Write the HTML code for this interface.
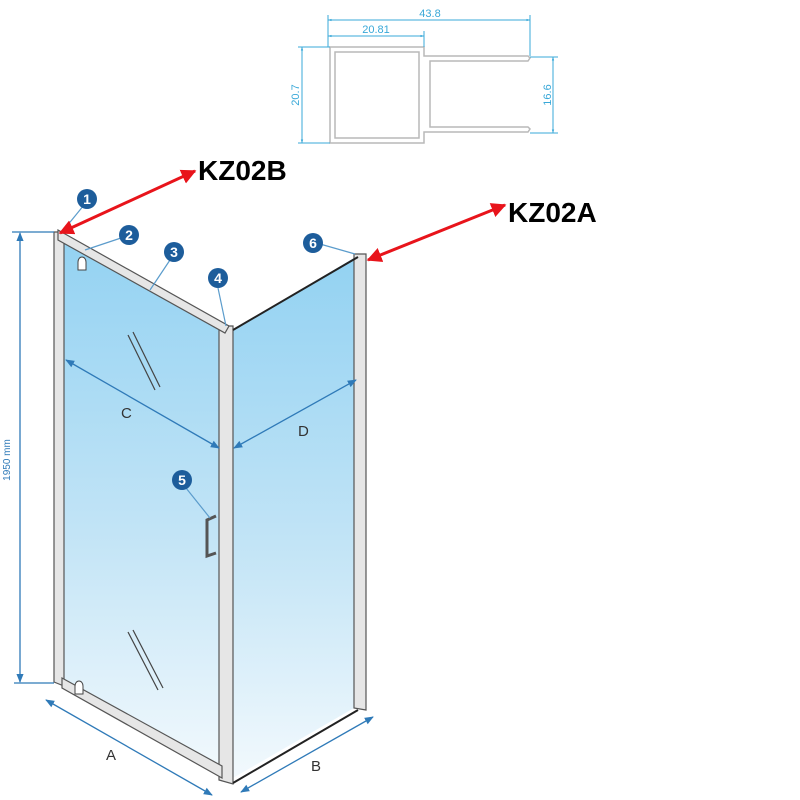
<!DOCTYPE html>
<html><head><meta charset="utf-8"><style>html,body{margin:0;padding:0;background:#fff}svg{display:block}</style></head>
<body>
<svg width="800" height="800" viewBox="0 0 800 800" xmlns="http://www.w3.org/2000/svg" font-family="Liberation Sans, sans-serif">
<defs>
<linearGradient id="g" x1="0" y1="0" x2="0" y2="1">
<stop offset="0" stop-color="#93d2f2"/><stop offset="0.55" stop-color="#c2e4f6"/><stop offset="1" stop-color="#f2f9fd"/>
</linearGradient>
<marker id="ba" viewBox="0 0 10 10" refX="9" refY="5" markerWidth="7" markerHeight="7" orient="auto-start-reverse"><path d="M0,1 L10,5 L0,9 z" fill="#2f7ab8"/></marker>
<marker id="ra" viewBox="0 0 10 10" refX="9" refY="5" markerWidth="5" markerHeight="5" orient="auto-start-reverse"><path d="M0,0 L10,5 L0,10 z" fill="#e8141b"/></marker>
<marker id="ca" viewBox="0 0 10 10" refX="9" refY="5" markerWidth="4" markerHeight="4" orient="auto-start-reverse"><path d="M0,2 L10,5 L0,8 z" fill="#39a8d8"/></marker>
</defs>

<g stroke="#b9b9b9" stroke-width="1.5" fill="none">
<path d="M330,47 L424,47 L424,56 L528,56 L530,58 L528,61 L430,61 L430,127 L528,127 L530,129 L528,132 L424,132 L424,143 L330,143 Z"/>
<rect x="335" y="52" width="84" height="86"/>
</g>
<g stroke="#39a8d8" stroke-width="1" fill="none">
<line x1="328" y1="20" x2="530" y2="20" marker-start="url(#ca)" marker-end="url(#ca)"/>
<line x1="328" y1="15" x2="328" y2="47"/><line x1="530" y1="15" x2="530" y2="56"/>
<line x1="328" y1="36" x2="424" y2="36" marker-start="url(#ca)" marker-end="url(#ca)"/>
<line x1="424" y1="31" x2="424" y2="47"/>
<line x1="302" y1="47" x2="302" y2="143" marker-start="url(#ca)" marker-end="url(#ca)"/>
<line x1="298" y1="47" x2="330" y2="47"/><line x1="298" y1="143" x2="330" y2="143"/>
<line x1="553" y1="57" x2="553" y2="133" marker-start="url(#ca)" marker-end="url(#ca)"/>
<line x1="530" y1="57" x2="558" y2="57"/><line x1="530" y1="133" x2="558" y2="133"/>
</g>
<g fill="#39a8d8" font-size="11">
<text x="430" y="17" text-anchor="middle">43.8</text>
<text x="376" y="33" text-anchor="middle">20.81</text>
<text transform="translate(299,95) rotate(-90)" text-anchor="middle">20.7</text>
<text transform="translate(551,95) rotate(-90)" text-anchor="middle">16.6</text>
</g>

<polygon points="64,238 220,328 220,774 64,684" fill="url(#g)"/>
<polygon points="233,330 354,258 354,708 233,778" fill="url(#g)"/>
<g stroke="#555" stroke-width="1.2" fill="#e6e6e6">
<polygon points="54,232 64,232 64,686 54,682"/>
<polygon points="219,326 233,326 233,784 219,780"/>
<polygon points="354,254 366,254 366,710 354,708"/>
<polygon points="58,230 229,326 225,333 58,240"/>
<polygon points="62,678 222,766 222,778 62,688"/>
</g>
<line x1="233" y1="330" x2="358" y2="257" stroke="#222" stroke-width="2"/>
<line x1="233" y1="783" x2="358" y2="710" stroke="#222" stroke-width="2"/>
<g stroke="#444" stroke-width="1.2">
<line x1="128" y1="335" x2="155" y2="390"/><line x1="133" y1="332" x2="160" y2="387"/>
<line x1="128" y1="632" x2="158" y2="690"/><line x1="133" y1="630" x2="163" y2="688"/>
</g>
<path d="M78,262 a4,5 0 0 1 8,0 v8 h-8 z" fill="#fff" stroke="#444"/>
<path d="M75,686 a4,5 0 0 1 8,0 v8 h-8 z" fill="#fff" stroke="#444"/>
<path d="M216,516 L207,520 L207,556 L216,553" fill="none" stroke="#555" stroke-width="3"/>

<g stroke="#2f7ab8" stroke-width="1.3" fill="none">
<line x1="20" y1="233" x2="20" y2="682" marker-start="url(#ba)" marker-end="url(#ba)"/>
<line x1="12" y1="232" x2="54" y2="232"/><line x1="14" y1="683" x2="54" y2="683"/>
<line x1="46" y1="700" x2="212" y2="795" marker-start="url(#ba)" marker-end="url(#ba)"/>
<line x1="241" y1="792" x2="373" y2="717" marker-start="url(#ba)" marker-end="url(#ba)"/>
<line x1="66" y1="360" x2="219" y2="448" marker-start="url(#ba)" marker-end="url(#ba)"/>
<line x1="234" y1="448" x2="356" y2="380" marker-start="url(#ba)" marker-end="url(#ba)"/>
</g>
<g stroke="#5b9ccc" stroke-width="1.2">
<line x1="84" y1="205" x2="62" y2="232"/><line x1="121" y1="238" x2="85" y2="250"/>
<line x1="170" y1="260" x2="150" y2="290"/><line x1="218" y1="288" x2="226" y2="326"/>
<line x1="186" y1="488" x2="210" y2="518"/><line x1="320" y1="244" x2="355" y2="254"/>
</g>
<g fill="#333" font-size="15">
<text x="10" y="460" transform="rotate(-90 10 460)" text-anchor="middle" fill="#2f7ab8" font-size="10">1950 mm</text>
<text x="106" y="760">A</text><text x="311" y="771">B</text>
<text x="121" y="418">C</text><text x="298" y="436">D</text>
</g>
<g font-size="14" font-weight="bold" fill="#fff" text-anchor="middle">
<circle cx="87" cy="199" r="10" fill="#1d5d9b"/><text x="87" y="204">1</text>
<circle cx="129" cy="235" r="10" fill="#1d5d9b"/><text x="129" y="240">2</text>
<circle cx="174" cy="252" r="10" fill="#1d5d9b"/><text x="174" y="257">3</text>
<circle cx="218" cy="278" r="10" fill="#1d5d9b"/><text x="218" y="283">4</text>
<circle cx="182" cy="480" r="10" fill="#1d5d9b"/><text x="182" y="485">5</text>
<circle cx="313" cy="243" r="10" fill="#1d5d9b"/><text x="313" y="248">6</text>
</g>
<g stroke="#e8141b" stroke-width="3">
<line x1="60" y1="233" x2="195" y2="171" marker-start="url(#ra)" marker-end="url(#ra)"/>
<line x1="368" y1="260" x2="505" y2="205" marker-start="url(#ra)" marker-end="url(#ra)"/>
</g>
<g font-size="28" font-weight="bold" fill="#000">
<text x="198" y="180">KZ02B</text>
<text x="508" y="222">KZ02A</text>
</g>
</svg>
</body></html>
